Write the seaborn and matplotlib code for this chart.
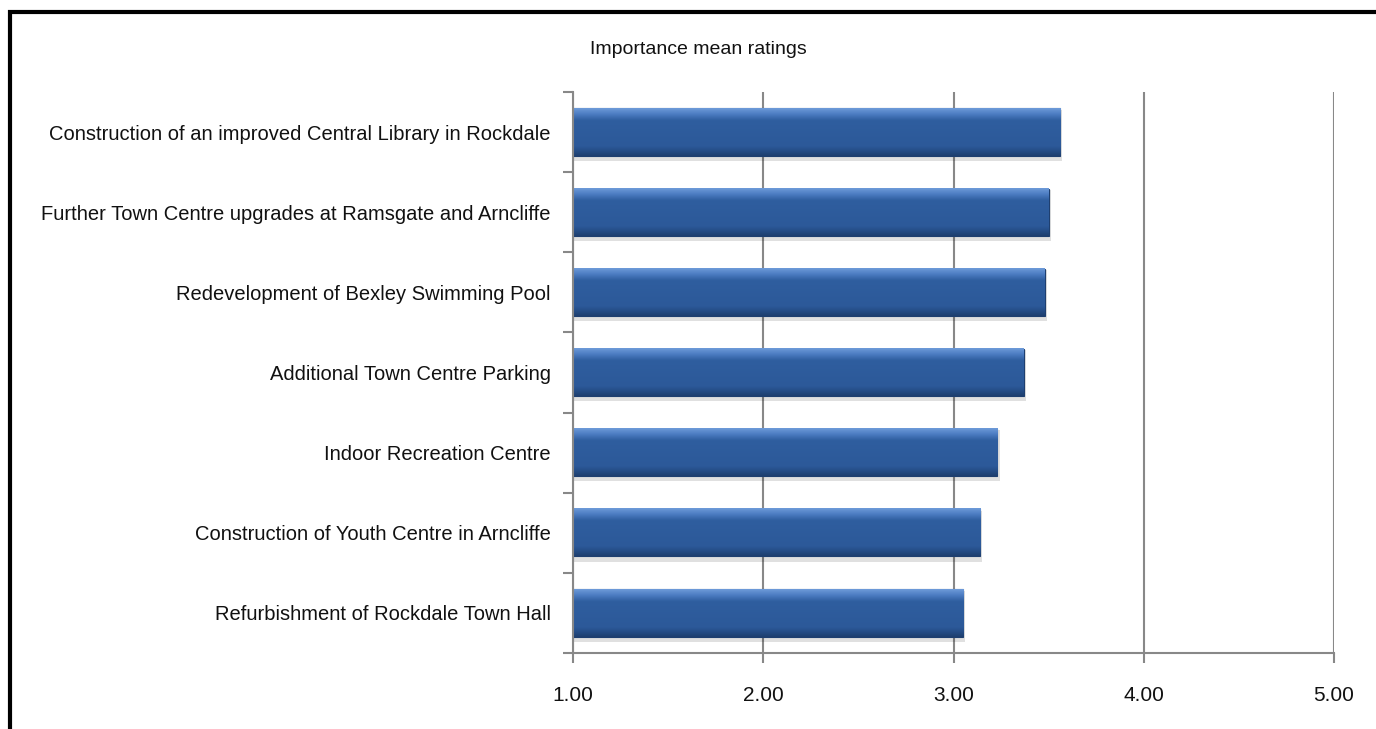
import numpy as np
import pandas as pd
import matplotlib
matplotlib.use("Agg")
import matplotlib.pyplot as plt
import seaborn as sns
from matplotlib.patches import Rectangle
from matplotlib.colors import LinearSegmentedColormap

categories = [
    "Construction of an improved Central Library in Rockdale",
    "Further Town Centre upgrades at Ramsgate and Arncliffe",
    "Redevelopment of Bexley Swimming Pool",
    "Additional Town Centre Parking",
    "Indoor Recreation Centre",
    "Construction of Youth Centre in Arncliffe",
    "Refurbishment of Rockdale Town Hall",
]
ratings = [3.56, 3.50, 3.48, 3.37, 3.23, 3.14, 3.05]
xticks = [1.0, 2.0, 3.0, 4.0, 5.0]
title = "Importance mean ratings"

df = pd.DataFrame({"item": categories, "rating": ratings})

sns.set_theme(style="white")
plt.rcParams["font.family"] = ["Liberation Sans", "DejaVu Sans"]

fig = plt.figure(figsize=(13.76, 7.29), dpi=100)
ax = fig.add_axes([573/1376, 1-653/729, (1334-573)/1376, (653-92)/729])

sns.barplot(data=df, x="rating", y="item", orient="h", color="#2E5C9E",
            width=0.59, ax=ax, saturation=1, zorder=3)

ax.set_xlim(1, 5)
ax.set_ylim(len(categories)-0.5, -0.5)
ax.set_xticks(xticks)
ax.set_xticklabels([f"{v:.2f}" for v in xticks], fontsize=15, color="#111111")
ax.set_xlabel("")
ax.set_ylabel("")
ax.tick_params(axis="x", pad=17, length=7, width=1.5, color="#888888", direction="out", bottom=True)
ax.set_yticks(range(len(categories)))
ax.set_yticklabels(categories, fontsize=14.5, color="#111111")
ax.tick_params(axis="y", which="major", length=0, pad=16)
ax.set_yticks(np.arange(-0.5, len(categories), 1.0), minor=True)
ax.tick_params(axis="y", which="minor", length=7, width=1.5, color="#888888", direction="out", left=True)
ax.grid(axis="x", color="#888888", linewidth=1.5, zorder=0)
ax.set_axisbelow(True)
for s in ["top", "right"]:
    ax.spines[s].set_visible(False)
for s in ["left", "bottom"]:
    ax.spines[s].set_color("#888888")
    ax.spines[s].set_linewidth(1.5)
    ax.spines[s].set_zorder(5)

# bevel / gradient effect on the bars
cmap = LinearSegmentedColormap.from_list(
    "bev", [(0.0, "#6D9AD8"), (0.12, "#4C7CC2"), (0.25, "#2F5E9F"),
            (0.8, "#2C5999"), (0.92, "#234A82"), (1.0, "#1E3F70")])
grad = np.linspace(0, 1, 64).reshape(-1, 1)
xmin = ax.get_xlim()[0]
for p in list(ax.patches):
    x0, y0 = p.get_x(), p.get_y()
    w, h = p.get_width(), p.get_height()
    sh = Rectangle((x0, y0 + h*0.03), w + 0.012, h*1.08, facecolor="#000000",
                   alpha=0.12, edgecolor="none", zorder=2)
    ax.add_patch(sh)
    im = ax.imshow(grad, cmap=cmap, aspect="auto",
                   extent=(max(x0, xmin), x0 + w, y0 + h, y0),
                   zorder=3.5, interpolation="bilinear")
    im.set_clip_path(p)
    im.set_clip_box(ax.bbox)
    p.set_edgecolor("#1E3F70")
    p.set_linewidth(0.8)
ax.set_xlim(1, 5)
ax.set_ylim(len(categories)-0.5, -0.5)

fig.text(698/1376, 1-50/729, title, ha="center", va="center", fontsize=14, color="#111111")

frame = Rectangle((10/1376, -0.2), 1.2, 1-12/729+0.2, transform=fig.transFigure,
                  fill=False, edgecolor="#000000", linewidth=3, zorder=10)
fig.patches.append(frame)

fig.savefig("out.png", dpi=100)
